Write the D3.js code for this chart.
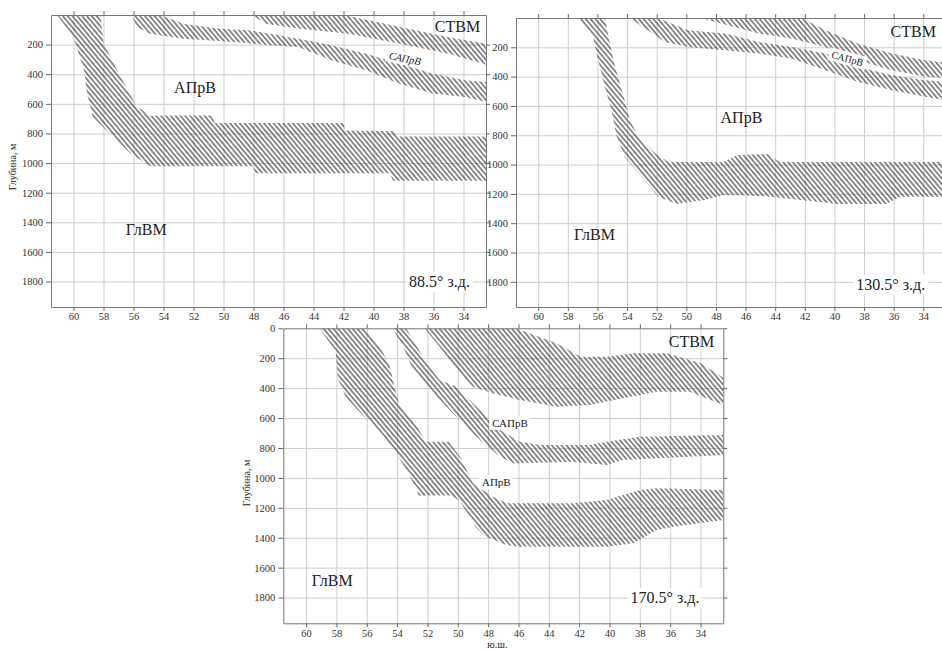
<!DOCTYPE html>
<html>
<head>
<meta charset="utf-8">
<script src="https://cdn.jsdelivr.net/npm/d3@7"></script>
<style>
  body { margin: 0; background: #fff; }
  svg { display: block; }
  .axis path { stroke: #777; }
  .axis line { stroke: #666; }
  .axis text { font-family: "Liberation Serif", "Times New Roman", serif; font-size: 10.5px; fill: #333; }
  .grid line { stroke: #cdcdcd; }
  .grid path { display: none; }
  .lbl { font-family: "Liberation Serif", "Times New Roman", serif; fill: #222; }
</style>
</head>
<body>
<div id="chart"></div>
<script>
// Tick values
var latTicks = [60, 58, 56, 54, 52, 50, 48, 46, 44, 42, 40, 38, 36, 34];
var depthTicksTop = [200, 400, 600, 800, 1000, 1200, 1400, 1600, 1800];
var depthTicksAll = [0, 200, 400, 600, 800, 1000, 1200, 1400, 1600, 1800];

// 88.5 W : boundaries as [latitude, depth] (upper edge / lower edge of each hatched band)
var w88_frontTop = [[58.2,0],[58.0,190],[57.2,350],[56.4,505],[55.8,615],[54.9,680],[54.2,678],[50.7,678],[50.6,730],[42.0,730],[41.9,780],[38.6,785],[38.4,820],[32.5,820]];
var w88_frontBot = [[61.1,0],[60.0,150],[59.3,370],[59.1,530],[58.7,690],[57.6,800],[56.2,935],[54.9,1022],[48.0,1022],[47.9,1068],[38.9,1068],[38.7,1120],[32.5,1120]];
var w88_upperTop = [[48.1,0],[42.0,0],[38.3,80],[35.0,150],[32.5,195]];
var w88_upperBot = [[48.1,0],[47.2,59],[45.0,92],[41.7,126],[38.3,193],[35.0,261],[32.5,335]];
var w88_midTop = [[54.2,0],[52.7,59],[50.4,92],[48.2,104],[46.9,126],[45.0,160],[42.8,205],[40.5,261],[38.3,328],[36.1,395],[33.9,440],[32.5,452]];
var w88_midBot = [[56.1,0],[55.8,81],[54.9,126],[52.7,160],[49.3,182],[46.9,205],[45.0,216],[42.8,306],[40.5,373],[38.3,463],[36.1,530],[33.9,553],[32.5,587]];

// 130.5 W
var w130_frontTop = [[55.5,0],[55.15,175],[54.8,334],[54.35,493],[53.8,697],[53.25,811],[52.1,924],[51.2,982],[47.5,982],[46.6,936],[45.5,929],[44.4,929],[43.9,970],[43.5,982],[32.5,982]];
var w130_frontBot = [[57.3,0],[56.3,129],[55.95,288],[55.5,470],[55.05,629],[54.7,811],[54.15,948],[53.0,1084],[51.9,1220],[50.65,1270],[48.85,1243],[47.5,1209],[46.15,1209],[44.35,1220],[42.1,1243],[39.85,1270],[36.5,1270],[35.55,1220],[32.5,1220]];
var w130_upperTop = [[49.0,0],[42.2,0],[40.6,84],[38.4,175],[36.1,243],[33.9,288],[32.5,305]];
var w130_upperBot = [[49.0,0],[47.2,50],[45.1,106],[42.9,140],[40.6,198],[38.4,288],[36.1,357],[33.9,400],[32.5,410]];
var w130_midTop = [[53.8,0],[51.9,0],[49.9,84],[47.4,106],[45.1,164],[42.9,198],[40.6,243],[38.4,334],[36.1,391],[33.9,425],[32.5,436]];
var w130_midBot = [[53.8,0],[52.6,84],[51.45,164],[49.9,198],[47.4,220],[45.1,243],[42.9,277],[40.6,357],[38.4,436],[36.1,493],[33.9,538],[32.5,561]];

// 170.5 W
var w170_frontTop = [[56.2,0],[55.2,112],[54.5,245],[54.2,379],[53.85,513],[52.75,646],[52.1,758],[50.6,758],[49.85,858],[49.0,1036],[47.7,1126],[46.8,1170],[42.4,1170],[40.2,1148],[38.0,1081],[36.9,1070],[32.5,1081]];
var w170_frontBot = [[59.1,0],[58.05,156],[57.9,334],[57.4,457],[56.5,557],[54.95,713],[53.85,869],[53.2,981],[52.65,1092],[52.6,1118],[50.5,1118],[49.9,1150],[48.8,1330],[48.3,1385],[46.8,1449],[45.9,1460],[40.2,1460],[38.4,1437],[36.9,1348],[35.8,1326],[32.5,1281]];
var w170_upperTop = [[52.2,0],[46.2,0],[43.5,100],[41.9,190],[40.2,190],[38.4,167],[36.2,167],[34.0,234],[32.5,330]];
var w170_upperBot = [[52.2,0],[51.2,123],[50.1,279],[49.0,390],[47.7,435],[45.9,479],[43.5,524],[41.3,513],[39.1,468],[36.9,424],[34.7,424],[32.5,513]];
var w170_midTop = [[53.4,0],[52.05,234],[51.2,346],[50.1,390],[49.0,501],[47.2,680],[45.9,758],[44.6,780],[41.3,780],[40.2,758],[38.0,725],[32.5,713]];
var w170_midBot = [[54.3,0],[53.6,123],[52.95,279],[51.6,435],[50.1,591],[48.55,747],[47.2,858],[46.3,903],[42.4,892],[40.2,914],[39.1,880],[32.5,847]];

var svgWidth = 942;
var svgHeight = 649;

var svg = d3.select("#chart")
  .append("svg")
  .attr("width", svgWidth)
  .attr("height", svgHeight);

// hatch pattern
var defs = svg.append("defs");
var pat = defs.append("pattern")
  .attr("id", "hatch")
  .attr("patternUnits", "userSpaceOnUse")
  .attr("width", 3.7)
  .attr("height", 10)
  .attr("patternTransform", "rotate(-40)");
pat.append("line")
  .attr("x1", 1).attr("y1", -1)
  .attr("x2", 1).attr("y2", 11)
  .attr("stroke", "#444")
  .attr("stroke-width", 1.2);

var panels = [
  {
    name: "p88", left: 51, top: 15, right: 486, bottom: 307,
    yTicks: depthTicksTop, yTitle: { x: 13, y: 167 },
    bands: [[w88_frontTop, w88_frontBot], [w88_upperTop, w88_upperBot], [w88_midTop, w88_midBot]],
    labels: [
      { t: "СТВМ", lat: 34.4, d: 117, size: 16 },
      { t: "САПрВ", lat: 37.95, d: 318, size: 10.5, rot: 12, italic: true, bg: true },
      { t: "АПрВ", lat: 51.9, d: 524, size: 16 },
      { t: "ГлВМ", lat: 55.15, d: 1489, size: 16 },
      { t: "88.5° з.д.", lat: 35.6, d: 1837, size: 16, bg: true }
    ]
  },
  {
    name: "p130", left: 516, top: 18, right: 945.5, bottom: 307,
    yTicks: depthTicksTop, yTitle: null,
    bands: [[w130_frontTop, w130_frontBot], [w130_upperTop, w130_upperBot], [w130_midTop, w130_midBot]],
    labels: [
      { t: "СТВМ", lat: 34.68, d: 128, size: 16 },
      { t: "САПрВ", lat: 39.18, d: 300, size: 10, rot: 15, bg: true },
      { t: "АПрВ", lat: 46.28, d: 714, size: 16 },
      { t: "ГлВМ", lat: 56.2, d: 1514, size: 16 },
      { t: "130.5° з.д.", lat: 36.2, d: 1855, size: 16, bg: true }
    ]
  },
  {
    name: "p170", left: 283.3, top: 328.3, right: 723.3, bottom: 623.3,
    yTicks: depthTicksAll, yTitle: { x: 247, y: 483 }, xTitle: true,
    bands: [[w170_frontTop, w170_frontBot], [w170_upperTop, w170_upperBot], [w170_midTop, w170_midBot]],
    labels: [
      { t: "СТВМ", lat: 34.6, d: 123, size: 16 },
      { t: "САПрВ", lat: 46.56, d: 658, size: 11, bg: true },
      { t: "АПрВ", lat: 47.46, d: 1054, size: 11, bg: true },
      { t: "ГлВМ", lat: 58.28, d: 1723, size: 16 },
      { t: "170.5° з.д.", lat: 36.34, d: 1838, size: 16, bg: true }
    ]
  }
];

// serif tick text, like the original figure
function styleAxis(sel) {
  sel.attr("font-family", null).attr("font-size", null);
  sel.selectAll("text")
    .style("font-family", "'Liberation Serif', 'Times New Roman', serif")
    .style("font-size", "10.5px")
    .style("fill", "#333");
}

panels.forEach(function(p) {
  var w = p.right - p.left;
  var h = p.bottom - p.top;

  var x = d3.scaleLinear().domain([61.5, 32.5]).range([0, w]);
  var y = d3.scaleLinear().domain([0, 1972]).range([0, h]);

  var g = svg.append("g")
    .attr("transform", `translate(${p.left}, ${p.top})`);

  g.append("rect")
    .attr("width", w).attr("height", h)
    .attr("fill", "#fff");

  defs.append("clipPath").attr("id", "clip-" + p.name)
    .append("rect").attr("width", w).attr("height", h);

  // grids
  g.append("g")
    .attr("class", "grid")
    .attr("transform", `translate(0, ${h})`)
    .call(d3.axisBottom(x).tickValues(latTicks).tickSize(-h).tickFormat(""));
  g.append("g")
    .attr("class", "grid")
    .call(d3.axisLeft(y).tickValues(depthTicksTop).tickSize(-w).tickFormat(""));

  // hatched bands
  var drawBand = d3.line()
    .x(function(d) { return x(d[0]); })
    .y(function(d) { return y(d[1]); })
    .curve(d3.curveLinearClosed);

  var bandGroup = g.append("g").attr("clip-path", `url(#clip-${p.name})`);
  p.bands.forEach(function(b) {
    var poly = b[0].concat(b[1].slice().reverse());
    bandGroup.append("path")
      .attr("d", drawBand(poly))
      .attr("fill", "url(#hatch)")
      .attr("stroke", "none");
  });

  // axes
  g.append("g")
    .attr("class", "axis")
    .call(d3.axisLeft(y).tickValues(p.yTicks).tickSize(5).tickSizeOuter(0).tickFormat(d3.format("d")))
    .call(styleAxis);
  g.append("g")
    .attr("class", "axis")
    .attr("transform", `translate(${w}, 0)`)
    .call(d3.axisRight(y).tickValues(p.yTicks).tickSize(4).tickSizeOuter(0).tickFormat(""));
  g.append("g")
    .attr("class", "axis")
    .attr("transform", `translate(0, ${h})`)
    .call(d3.axisBottom(x).tickValues(latTicks).tickSize(4).tickSizeOuter(0).tickPadding(2).tickFormat(d3.format("d")))
    .call(styleAxis);
  g.append("g")
    .attr("class", "axis")
    .call(d3.axisTop(x).tickValues(latTicks).tickSize(4).tickSizeOuter(0).tickFormat(""));

  // labels
  p.labels.forEach(function(l) {
    var lx = x(l.lat), ly = y(l.d);
    var t = g.append("text")
      .attr("class", "lbl")
      .attr("text-anchor", "middle")
      .attr("font-size", l.size + "px")
      .attr("font-style", l.italic ? "italic" : "normal")
      .attr("transform", `translate(${lx}, ${ly}) rotate(${l.rot || 0})`)
      .text(l.t);
    if (l.bg) {
      var bb = t.node().getBBox();
      g.insert("rect", function() { return t.node(); })
        .attr("x", bb.x - 3).attr("y", bb.y - 1)
        .attr("width", bb.width + 6).attr("height", bb.height + 2)
        .attr("fill", "#fff")
        .attr("transform", `translate(${lx}, ${ly}) rotate(${l.rot || 0})`);
    }
  });

  if (p.yTitle) {
    svg.append("text")
      .attr("class", "lbl")
      .attr("font-size", "10px")
      .attr("fill", "#333")
      .attr("text-anchor", "middle")
      .attr("transform", `translate(${p.yTitle.x + 3}, ${p.yTitle.y}) rotate(-90)`)
      .text("Глубина, м");
  }
  if (p.xTitle) {
    g.append("text")
      .attr("class", "lbl")
      .attr("font-size", "10px")
      .attr("text-anchor", "middle")
      .attr("x", w / 2 - 6)
      .attr("y", h + 25)
      .text("ю.ш.");
  }
});
</script>
</body>
</html>
